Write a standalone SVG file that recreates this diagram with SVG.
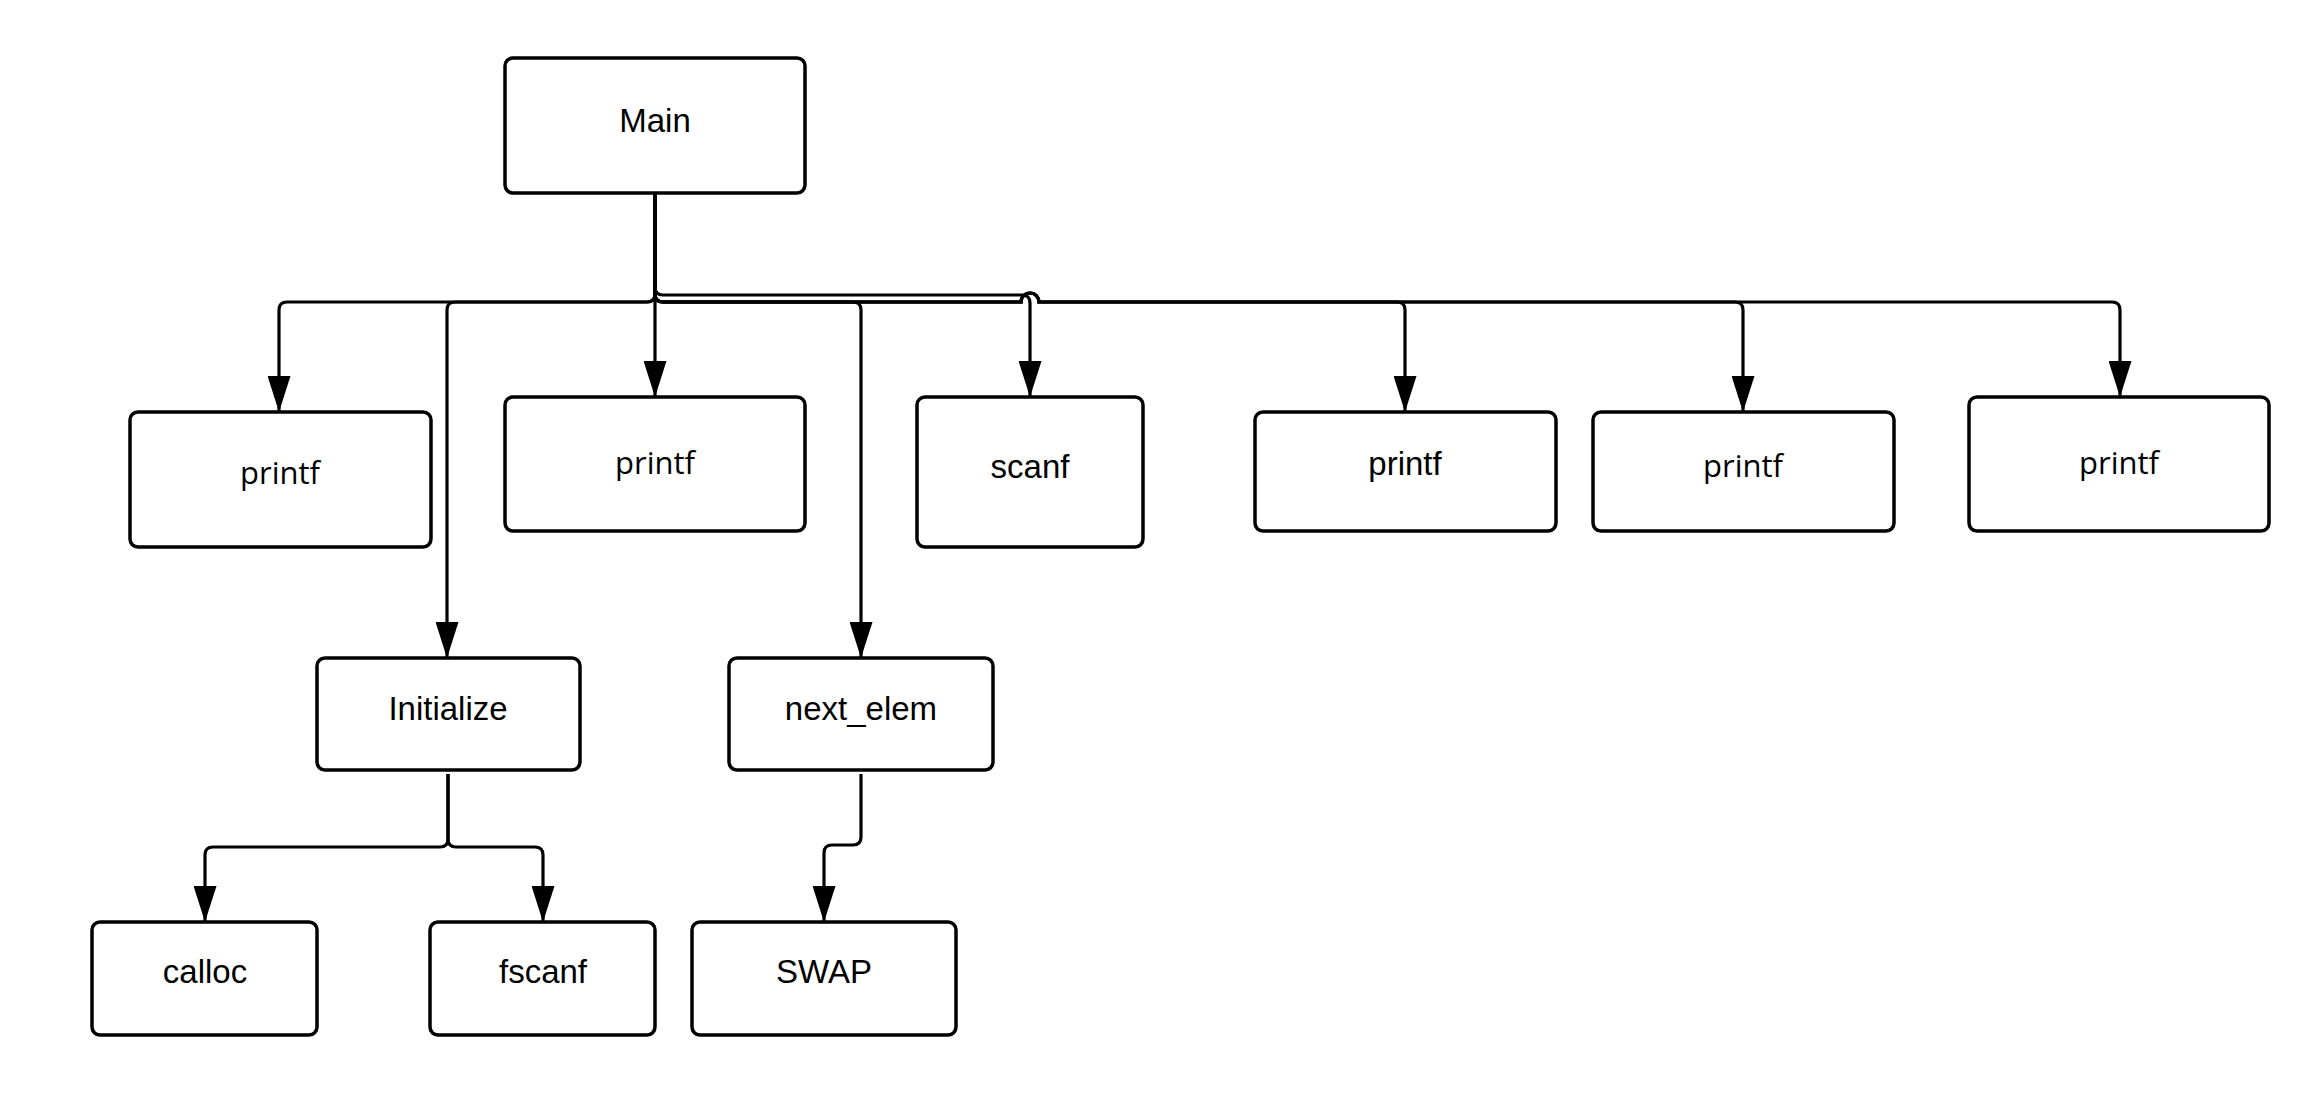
<svg xmlns="http://www.w3.org/2000/svg" width="2310" height="1097" viewBox="0 0 2310 1097">
<style>
.box{fill:#fff;stroke:#000;stroke-width:3.5}
.lbl{font-family:"Liberation Sans",Arial,sans-serif;font-size:33px;fill:#000;text-anchor:middle}
.lbl2{font-family:"Open Sans","Noto Sans",sans-serif;font-size:31px;fill:#000;text-anchor:middle}
.con{fill:none;stroke:#000;stroke-width:3.2}
</style>
<defs>
<marker id="arr" markerUnits="userSpaceOnUse" markerWidth="36" markerHeight="23" viewBox="0 0 36 23" refX="36" refY="11.5" orient="auto">
<path d="M0,0 L36,11.5 L0,23 z" fill="#000"/>
</marker>
</defs>
<rect width="2310" height="1097" fill="#fff"/>
<g id="connectors">
<path class="con" marker-end="url(#arr)" d="M655,193 V294 Q655,302 647,302 H287 Q279,302 279,310 V412"/>
<path class="con" marker-end="url(#arr)" d="M655,193 V294 Q655,302 647,302 H455 Q447,302 447,310 V658"/>
<path class="con" marker-end="url(#arr)" d="M655,193 V397"/>
<path class="con" marker-end="url(#arr)" d="M655,193 V294 Q655,302 663,302 H853 Q861,302 861,310 V658"/>
<path class="con" marker-end="url(#arr)" d="M655,193 V287 Q655,295 663,295 H1022 Q1030,295 1030,303 V397"/>
<path class="con" marker-end="url(#arr)" d="M655,193 V294 Q655,302 663,302 H1021 A9,9 0 0 1 1039,302 H1397 Q1405,302 1405,310 V412"/>
<path class="con" marker-end="url(#arr)" d="M655,193 V294 Q655,302 663,302 H1021 A9,9 0 0 1 1039,302 H1735 Q1743,302 1743,310 V412"/>
<path class="con" marker-end="url(#arr)" d="M655,193 V294 Q655,302 663,302 H1021 A9,9 0 0 1 1039,302 H2112 Q2120,302 2120,310 V397"/>
<path class="con" marker-end="url(#arr)" d="M448,774 V839 Q448,847 440,847 H213 Q205,847 205,855 V922"/>
<path class="con" marker-end="url(#arr)" d="M448,774 V839 Q448,847 456,847 H535 Q543,847 543,855 V922"/>
<path class="con" marker-end="url(#arr)" d="M861,774 V837 Q861,845 853,845 H832 Q824,845 824,853 V922"/>
</g>
<g id="main"><rect class="box" x="505" y="58" width="300" height="135" rx="8"/><text class="lbl" x="655" y="132">Main</text></g>
<g id="printf1"><rect class="box" x="130" y="412" width="301" height="135" rx="8"/><text class="lbl2" x="280" y="484">printf</text></g>
<g id="printf2"><rect class="box" x="505" y="397" width="300" height="134" rx="8"/><text class="lbl2" x="655" y="474">printf</text></g>
<g id="scanf"><rect class="box" x="917" y="397" width="226" height="150" rx="8"/><text class="lbl" x="1030" y="478">scanf</text></g>
<g id="printf3"><rect class="box" x="1255" y="412" width="301" height="119" rx="8"/><text class="lbl" x="1405" y="475">printf</text></g>
<g id="printf4"><rect class="box" x="1593" y="412" width="301" height="119" rx="8"/><text class="lbl2" x="1743" y="477">printf</text></g>
<g id="printf5"><rect class="box" x="1969" y="397" width="300" height="134" rx="8"/><text class="lbl2" x="2119" y="474">printf</text></g>
<g id="initialize"><rect class="box" x="317" y="658" width="263" height="112" rx="8"/><text class="lbl" x="448" y="720">Initialize</text></g>
<g id="next_elem"><rect class="box" x="729" y="658" width="264" height="112" rx="8"/><text class="lbl" x="861" y="720">next_elem</text></g>
<g id="calloc"><rect class="box" x="92" y="922" width="225" height="113" rx="8"/><text class="lbl" x="205" y="983">calloc</text></g>
<g id="fscanf"><rect class="box" x="430" y="922" width="225" height="113" rx="8"/><text class="lbl" x="543" y="983">fscanf</text></g>
<g id="swap"><rect class="box" x="692" y="922" width="264" height="113" rx="8"/><text class="lbl" x="824" y="983">SWAP</text></g>
</svg>
